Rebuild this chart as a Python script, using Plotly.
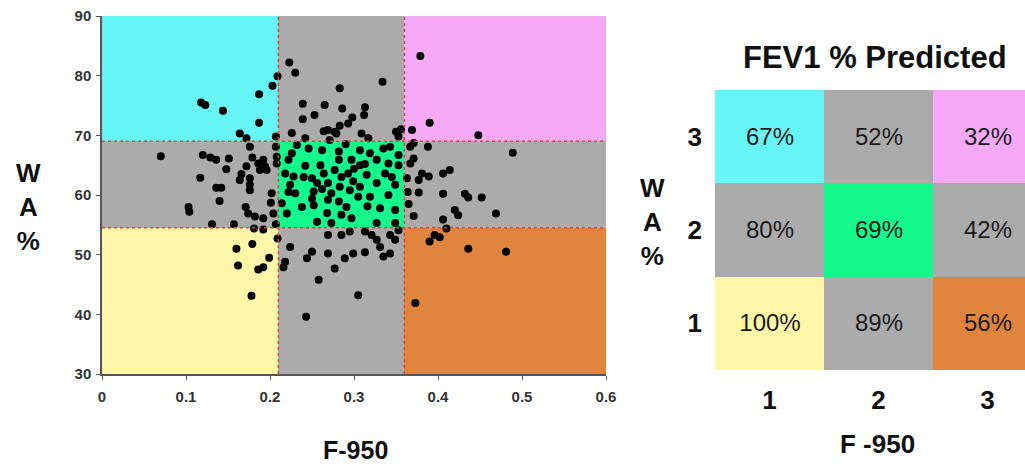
import plotly.graph_objects as go

# ---------------- data ----------------
f950 = [0.118,0.123,0.144,0.187,0.203,0.209,0.187,0.164,0.172,0.207,
        0.223,0.230,0.334,0.283,0.239,0.265,0.286,0.313,0.312,0.253,0.239,0.298,0.293,0.283,0.277,0.269,0.264,0.309,0.226,0.279,0.317,0.242,0.271,0.350,0.356,0.353,
        0.379,0.390,0.448,0.369,
        0.489,0.388,0.371,0.367,0.371,0.367,0.381,0.389,0.377,0.363,0.406,0.414,0.377,0.406,0.432,0.436,0.452,0.420,0.424,0.469,0.371,0.406,0.410,0.365,0.364,
        0.390,0.396,0.402,0.436,0.481,0.373,
        0.070,0.120,0.129,0.136,0.151,0.148,0.117,0.136,0.142,0.176,0.179,0.172,0.166,0.164,0.176,0.176,0.176,0.186,0.192,0.194,0.196,0.188,0.202,0.208,0.208,0.207,0.103,0.104,0.140,0.131,0.157,0.171,0.174,0.182,0.192,0.201,0.207,0.181,0.192,0.204,
        0.160,0.162,0.179,0.186,0.192,0.199,0.178,0.209,
        0.232,0.262,0.282,0.307,0.319,0.343,0.353,0.222,0.242,0.260,0.282,0.297,0.307,0.327,0.341,0.353,0.218,0.228,0.250,0.264,0.277,0.293,0.315,0.337,0.224,0.256,0.269,0.283,0.307,0.327,0.349,0.230,0.252,0.273,0.295,0.319,0.341,0.250,0.252,0.269,0.282,0.291,0.305,0.331,0.349,0.220,0.256,0.285,0.297,0.327,0.238,0.214,0.349,0.273,0.246,0.290,0.335,0.226,0.300,0.262,0.313,0.240,0.285,0.268,0.316,0.222,0.345,0.299,
        0.269,0.285,0.295,0.313,0.321,0.327,0.331,0.343,0.349,0.353,0.224,0.250,0.244,0.269,0.289,0.299,0.313,0.335,0.343,0.218,0.216,0.277,0.258,0.305,0.243]
wa_pct = [75.5,75.1,74.1,76.9,78.3,79.9,72.1,70.3,69.5,69.8,
          82.2,80.5,79.0,77.9,75.3,75.1,74.5,74.7,73.4,73.4,72.7,73.0,72.0,71.6,70.6,70.9,70.7,70.3,70.4,70.3,69.5,69.5,69.2,70.6,71.0,69.8,
          83.3,72.1,70.0,70.9,
          67.1,68.1,68.7,68.1,66.1,65.3,63.6,63.1,62.5,62.8,63.6,64.2,60.4,60.2,60.2,59.6,59.6,57.5,56.6,56.9,56.5,55.9,54.4,58.5,60.5,
          52.2,53.3,52.9,51.0,50.5,41.9,
          66.5,66.7,66.3,65.9,66.1,64.3,62.9,61.2,61.2,68.1,66.3,64.8,63.5,62.5,62.8,61.7,60.8,65.3,65.9,64.8,64.2,64.2,60.3,66.4,65.3,68.1,58.0,57.2,59.0,55.1,55.1,58.0,56.9,56.4,56.1,58.7,55.1,54.4,54.2,56.9,
          51.0,48.2,51.8,47.5,47.9,49.5,43.1,52.7,
          68.4,67.5,67.3,67.5,67.0,68.1,66.7,65.9,64.9,65.0,65.9,65.9,65.0,65.9,65.3,65.0,63.6,63.1,62.8,63.6,64.2,63.6,63.4,63.6,61.7,62.0,62.0,61.4,61.4,62.0,61.7,60.3,60.6,60.3,60.8,59.7,60.0,59.4,58.3,59.2,58.9,58.0,59.7,57.8,57.5,56.9,55.5,56.7,56.1,55.3,58.0,58.6,55.3,55.3,67.8,68.5,67.8,67.0,64.4,61.0,65.2,63.0,63.0,57.0,58.1,60.5,63.0,62.3,
          53.3,53.3,53.9,53.9,53.3,52.5,51.3,53.3,52.5,54.1,51.3,50.5,49.4,50.2,49.4,50.2,50.4,49.7,50.2,48.8,47.9,47.7,45.8,43.2,39.6]

f950_cuts = [0.0, 0.21, 0.36, 0.6]
wa_cuts = [30, 54.5, 69, 90]
tertiles = [1, 2, 3]
# colour class of each tertile cell (rows: WA% 1..3, cols: F-950 1..3)
cell_class = [[0, 1, 2],
              [1, 3, 1],
              [4, 1, 5]]
fev1_text = [["100%", "89%", "56%"],
             ["80%", "69%", "42%"],
             ["67%", "52%", "32%"]]
class_colors = ["#FFF6A8", "#ABABAB", "#E0843E", "#14F88C", "#66F6F6", "#F5A9F6"]

# ---------------- figure ----------------
cscale = [[i / 5, c] for i, c in enumerate(class_colors)]
font_family = "Liberation Sans, Arial, sans-serif"

fig = go.Figure()
fig.add_trace(go.Heatmap(x=f950_cuts, y=wa_cuts, z=cell_class, colorscale=cscale,
                         zmin=0, zmax=5, showscale=False, hoverinfo="skip",
                         xaxis="x", yaxis="y"))
fig.add_trace(go.Scatter(x=f950, y=wa_pct, mode="markers",
                         marker=dict(color="black", size=8),
                         xaxis="x", yaxis="y", showlegend=False))
fig.add_trace(go.Heatmap(x=tertiles, y=tertiles, z=cell_class, colorscale=cscale,
                         zmin=0, zmax=5, showscale=False, text=fev1_text,
                         texttemplate="%{text}",
                         textfont=dict(size=24, color="#1a1a1a", family=font_family),
                         xaxis="x2", yaxis="y2", hoverinfo="skip"))

# red dotted boundary lines
for xc in f950_cuts[1:3]:
    fig.add_shape(type="line", xref="x", yref="y", x0=xc, x1=xc, y0=wa_cuts[0], y1=wa_cuts[-1],
                  line=dict(color="#D9473E", width=1.5, dash="dot"))
for yc in wa_cuts[1:3]:
    fig.add_shape(type="line", xref="x", yref="y", x0=f950_cuts[0], x1=f950_cuts[-1], y0=yc, y1=yc,
                  line=dict(color="#D9473E", width=1.5, dash="dot"))

W, H = 1025, 467
tickfont = dict(size=15, color="#333333", family=font_family, weight="bold")
big = dict(size=26, color="#111111", family=font_family, weight="bold")


def label(text, px, py, size):
    return dict(text=text, x=px / W, y=(H - py) / H, xref="paper", yref="paper", showarrow=False,
                xanchor="center", yanchor="middle",
                font=dict(size=size, color="#111111", family=font_family, weight="bold"))


fig.update_layout(
    width=W, height=H, margin=dict(l=0, r=0, t=0, b=0, autoexpand=False),
    paper_bgcolor="white", plot_bgcolor="white", showlegend=False,
    xaxis=dict(domain=[102 / W, 606 / W], range=[0, 0.6], tickvals=[0, 0.1, 0.2, 0.3, 0.4, 0.5, 0.6],
               ticktext=["0", "0.1", "0.2", "0.3", "0.4", "0.5", "0.6"],
               showgrid=False, zeroline=False, showline=True, linecolor="#555555", linewidth=1.5,
               ticks="outside", ticklen=4, tickcolor="#555555", tickfont=tickfont, ticklabelstandoff=4,
               automargin=False),
    yaxis=dict(domain=[(H - 374) / H, (H - 16) / H], range=[30, 90], tickvals=[30, 40, 50, 60, 70, 80, 90],
               showgrid=False, zeroline=False, showline=True, linecolor="#555555", linewidth=1.5,
               ticks="outside", ticklen=4, tickcolor="#555555", tickfont=tickfont, ticklabelstandoff=2,
               automargin=False),
    xaxis2=dict(domain=[715 / W, 1.0], range=[0.5, 0.5 + 310 / 109], tickvals=tertiles,
                showgrid=False, zeroline=False, showline=False, ticks="", tickfont=big,
                ticklabelstandoff=12, anchor="y2", automargin=False),
    yaxis2=dict(domain=[(H - 370) / H, (H - 90) / H], range=[0.5, 3.5], tickvals=tertiles,
                showgrid=False, zeroline=False, showline=False, ticks="", tickfont=big,
                ticklabelstandoff=12, anchor="x2", automargin=False),
    annotations=[
        label("F-950", 355, 450, 25),
        label("W<br>A<br>%", 28, 207, 26),
        label("FEV1 % Predicted", 875, 57, 31),
        label("F -950", 877, 444, 26),
        label("W<br>A<br>%", 652, 222, 26),
    ],
)

fig.write_html("out.html", config={"displayModeBar": False},
               post_script="document.body.style.margin='0';")
